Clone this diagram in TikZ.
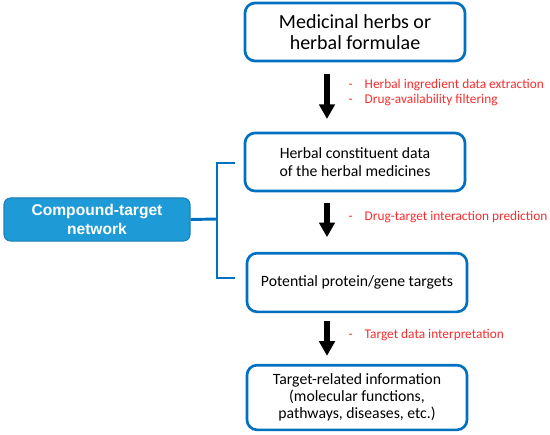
\documentclass[tikz,border=0pt]{standalone}
\usepackage{fontspec}
\setmainfont{Carlito}
\newfontfamily\arialfont{Liberation Sans}
\usetikzlibrary{arrows.meta,positioning}
\definecolor{boxblue}{RGB}{0,112,192}
\definecolor{netfill}{RGB}{30,154,214}
\definecolor{netdraw}{RGB}{26,128,186}
\definecolor{notered}{RGB}{245,45,45}

\begin{document}
\begin{tikzpicture}[x=0.75pt, y=-0.75pt, stage/.style={draw=boxblue, line width=2pt, rounded corners=7.5pt, fill=white, align=center, minimum width=165pt}, net/.style={draw=netdraw, line width=0.8pt, rounded corners=5pt, fill=netfill, text=white, align=center, font=\arialfont\bfseries\fontsize{11.7}{14.5}\selectfont, minimum width=139.5pt, minimum height=32.3pt}, flow/.style={-{Triangle[width=11.5pt,length=11pt]}, line width=5.2pt}, note/.style={anchor=west, align=left, text=notered, font=\fontsize{10}{11.3}\selectfont}, bracket/.style={draw=boxblue, line width=2.2pt}]
\useasboundingbox (0,0) rectangle (550,435);
\node[stage, minimum height=43.5pt, font=\fontsize{15}{16.3}\selectfont] (herbs) at (355,32) {Medicinal herbs or\\herbal formulae};
\node[stage, minimum height=43.5pt, font=\fontsize{11.8}{13.7}\selectfont] (constit) at (355,162) {Herbal constituent data\\of the herbal medicines};
\node[stage, minimum height=44pt, font=\fontsize{11.8}{13.7}\selectfont] (targets) at (357,282.5) {Potential protein/gene targets};
\node[stage, minimum height=48.5pt, font=\fontsize{11.8}{12.6}\selectfont] (info) at (357,397.5) {Target-related information\\(molecular functions,\\pathways, diseases, etc.)};
\node[net] (network) at (97,219.5) {Compound-target\\network};
\draw[flow] ([xshift=-21pt, yshift=-8.5pt]herbs.south) -- ([xshift=-21pt, yshift=9.5pt]constit.north);
\draw[flow] ([xshift=-21pt, yshift=-8pt]constit.south) -- ([xshift=-22.5pt, yshift=11pt]targets.north);
\draw[flow] ([xshift=-22.5pt, yshift=-6pt]targets.south) -- ([xshift=-22.5pt, yshift=6pt]info.north);
\node[note] (note1) at (344,92.5) {\makebox[12pt][l]{-}Herbal ingredient data extraction\\\makebox[12pt][l]{-}Drug-availability filtering};
\node[note] (note2) at (344,217) {\makebox[12pt][l]{-}Drug-target interaction prediction};
\node[note] (note3) at (344,335) {\makebox[12pt][l]{-}Target data interpretation};
\coordinate (joint) at (217,219);
\coordinate (top) at (235,163);
\coordinate (bottom) at (235,278);
\draw[bracket] (network.east) -- (joint);
\draw[bracket] (top) -| (joint) |- (bottom);
\end{tikzpicture}
\end{document}
